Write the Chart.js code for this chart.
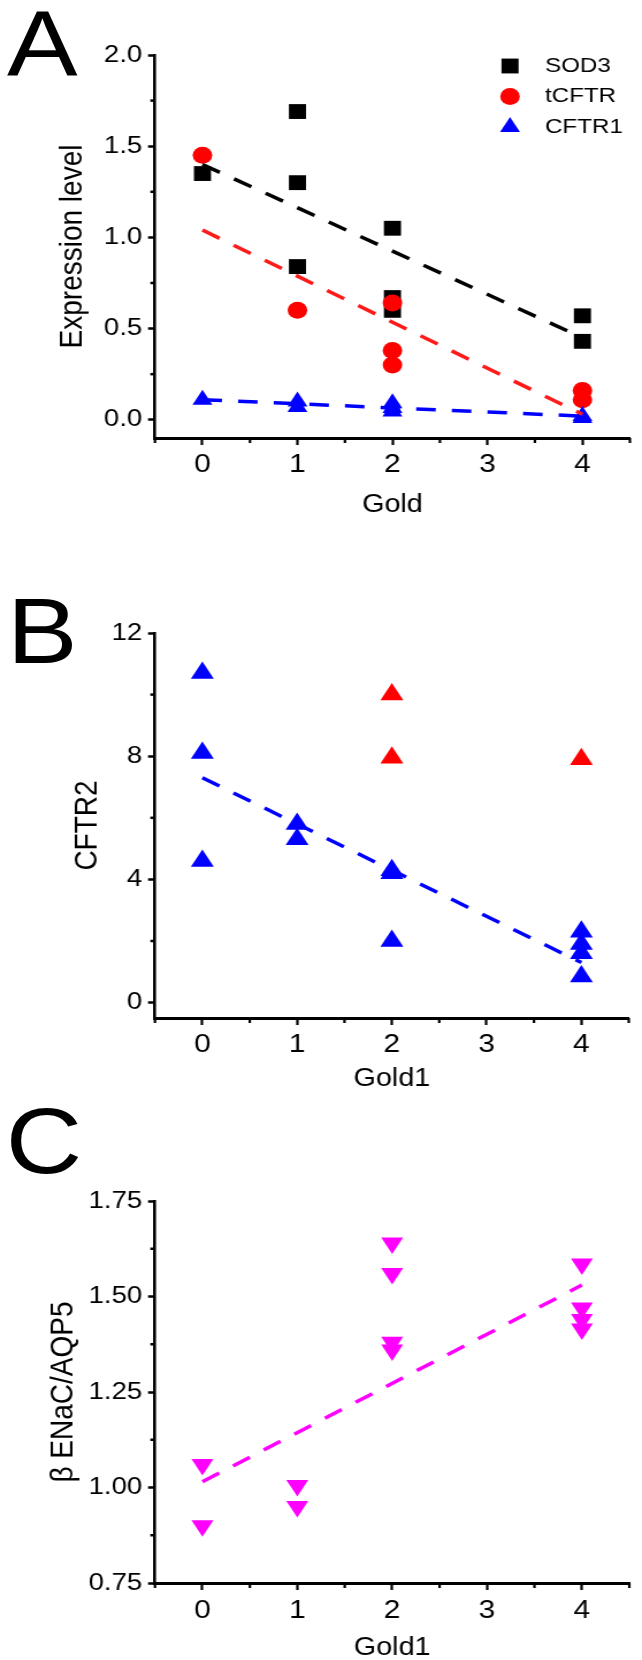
<!DOCTYPE html>
<html>
<head>
<meta charset="utf-8">
<script src="https://cdn.jsdelivr.net/npm/chart.js@4.4.1/dist/chart.umd.min.js"></script>
<style>
  html, body { margin: 0; padding: 0; background: #fff; overflow: hidden; width: 642px; height: 1660px; }
  #page { position: absolute; left: 0; top: 0; width: 558px; height: 1660px; transform: scaleX(1.1505); transform-origin: 0 0; }
  #page canvas { position: absolute; left: 0; }
  .letter { position: absolute; font-family: "Liberation Sans", Arial, sans-serif; font-size: 92px; line-height: 1; color: #000; }
</style>
</head>
<body>
<div id="page">
  <div class="letter" style="left:6px;top:-2px">A</div>
  <div class="letter" style="left:6px;top:585px">B</div>
  <div class="letter" style="left:5px;top:1095px">C</div>
  <canvas id="chartA" style="top:0px"></canvas>
  <canvas id="chartB" style="top:540px"></canvas>
  <canvas id="chartC" style="top:1100px"></canvas>
</div>
<script>
// ---- data ----
const goldTicks = [0, 1, 2, 3, 4];
const goldMinor = [-0.5, 0.5, 1.5, 2.5, 3.5, 4.5];
const fitX = [0, 4];

// panel A
const sod3X = [0, 1, 1, 1, 2, 2, 2, 4, 4];
const sod3Y = [1.35, 1.69, 1.30, 0.84, 1.05, 0.67, 0.60, 0.57, 0.43];
const tcftrX = [0, 1, 2, 2, 2, 4, 4];
const tcftrY = [1.45, 0.60, 0.64, 0.38, 0.30, 0.16, 0.11];
const cftr1X = [0, 1, 1, 2, 2, 2, 4, 4];
const cftr1Y = [0.11, 0.10, 0.07, 0.09, 0.065, 0.045, 0.02, 0.01];
const sod3Fit = [1.40, 0.45];
const tcftrFit = [1.04, 0.03];
const cftr1Fit = [0.11, 0.02];
const expTicks = [0, 0.5, 1.0, 1.5, 2.0];
const expMinor = [0.25, 0.75, 1.25, 1.75];

// panel B
const cftr2BlueX = [0, 0, 0, 1, 1, 2, 2, 2, 4, 4, 4, 4];
const cftr2BlueY = [10.7, 8.1, 4.6, 5.8, 5.3, 4.3, 4.2, 2.0, 2.3, 1.9, 1.6, 0.85];
const cftr2RedX = [2, 2, 4];
const cftr2RedY = [10.0, 7.95, 7.9];
const cftr2Fit = [7.3, 1.3];
const cftr2Ticks = [0, 4, 8, 12];
const cftr2Minor = [2, 6, 10];

// panel C
const enacX = [0, 0, 1, 1, 2, 2, 2, 2, 4, 4, 4, 4];
const enacY = [1.06, 0.90, 1.005, 0.95, 1.64, 1.56, 1.38, 1.36, 1.585, 1.47, 1.44, 1.415];
const enacFit = [1.015, 1.53];
const enacTicks = [0.75, 1.00, 1.25, 1.50, 1.75];
const enacMinor = [0.875, 1.125, 1.375, 1.625];

// ---- helpers ----
const W = 558;
const PLOT_LEFT = 134.7;
const PLOT_RIGHT = 549.3;
const FONT = '"Liberation Sans", Arial, sans-serif';

const pts = (xs, ys) => xs.map((x, i) => ({ x, y: ys[i] }));

function markers(label, xs, ys, color, style, radius, order, extra) {
  return Object.assign({
    label, data: pts(xs, ys), backgroundColor: color, borderColor: color,
    borderWidth: 0, pointStyle: style, pointRadius: radius, order, clip: false
  }, extra || {});
}

function fitLine(ys, color) {
  return {
    data: pts(fitX, ys), showLine: true, borderColor: color, borderWidth: 3.5,
    borderDash: [17, 14], pointRadius: 0, order: 0, clip: false
  };
}

const minorTicks = {
  id: 'minorTicks',
  afterDraw(chart, args, opts) {
    const { ctx, chartArea, scales } = chart;
    ctx.save();
    ctx.strokeStyle = '#000';
    ctx.lineWidth = 2.2;
    (opts.x || []).forEach(v => {
      const px = scales.x.getPixelForValue(v);
      ctx.beginPath();
      ctx.moveTo(px, chartArea.bottom);
      ctx.lineTo(px, chartArea.bottom + 5);
      ctx.stroke();
    });
    ctx.lineWidth = 2.5;
    (opts.y || []).forEach(v => {
      const py = scales.y.getPixelForValue(v);
      ctx.beginPath();
      ctx.moveTo(chartArea.left, py);
      ctx.lineTo(chartArea.left - 4, py);
      ctx.stroke();
    });
    ctx.restore();
  }
};

// legend drawn in the top right of the plot, one row per labelled dataset
const markerLegend = {
  id: 'markerLegend',
  afterDraw(chart, args, opts) {
    if (!opts.show) return;
    const ctx = chart.ctx;
    const items = chart.data.datasets.filter(d => d.label);
    ctx.save();
    items.forEach((d, i) => {
      const y = opts.y0 + i * opts.dy;
      ctx.fillStyle = d.backgroundColor;
      ctx.strokeStyle = d.backgroundColor;
      Chart.helpers.drawPoint(ctx, {
        pointStyle: d.pointStyle, rotation: d.pointRotation || 0,
        radius: d.pointRadius, borderWidth: 0
      }, opts.markerX, y);
      ctx.fillStyle = '#000';
      ctx.font = opts.fontSize + 'px ' + FONT;
      ctx.textBaseline = 'middle';
      ctx.textAlign = 'left';
      ctx.fillText(d.label, opts.textX, y);
    });
    ctx.restore();
  }
};

function buildPanel(id, cfg) {
  const canvas = document.getElementById(id);
  canvas.width = W;
  canvas.height = cfg.height;
  const xAxisH = cfg.xTitleY + 15 - cfg.bottom;
  const padLeft = cfg.yTitleX - 16.8;

  new Chart(canvas, {
    type: 'scatter',
    data: { datasets: cfg.datasets },
    options: {
      responsive: false,
      animation: false,
      events: [],
      layout: {
        padding: { left: padLeft, right: W - PLOT_RIGHT, top: cfg.top, bottom: cfg.height - cfg.bottom - xAxisH }
      },
      plugins: {
        legend: { display: false },
        tooltip: { enabled: false },
        minorTicks: { x: goldMinor, y: cfg.yMinor },
        markerLegend: cfg.legend || { show: false }
      },
      scales: {
        x: {
          type: 'linear', min: -0.5, max: 4.5,
          afterBuildTicks: s => { s.ticks = goldTicks.map(v => ({ value: v })); },
          afterFit: s => { s.height = xAxisH; },
          ticks: { color: '#000', padding: cfg.xTickPad, font: { family: FONT, size: 26, lineHeight: 1.2 }, callback: v => String(v) },
          grid: { display: true, drawOnChartArea: false, drawTicks: true, tickLength: 7, tickColor: '#000', tickWidth: 2.2 },
          border: { display: true, color: '#000', width: 3 },
          title: { display: true, text: cfg.xTitle, color: '#000', padding: 0, font: { family: FONT, size: 25, lineHeight: 1.2 } }
        },
        y: {
          type: 'linear', min: cfg.yMin, max: cfg.yMax,
          afterBuildTicks: s => { s.ticks = cfg.yTicks.map(v => ({ value: v })); },
          afterFit: s => { s.width = PLOT_LEFT - padLeft; },
          ticks: { color: '#000', padding: 5, font: { family: FONT, size: 24, lineHeight: 1.2 }, callback: cfg.yFormat },
          grid: { display: true, drawOnChartArea: false, drawTicks: true, tickLength: 6, tickColor: '#000', tickWidth: 2.5 },
          border: { display: true, color: '#000', width: 2.6 },
          title: { display: true, text: cfg.yTitle, color: '#000', padding: 0, font: { family: FONT, size: 28, lineHeight: 1.2 } }
        }
      }
    },
    plugins: [minorTicks, markerLegend]
  });
}

// A
buildPanel('chartA', {
  height: 540, top: 55, bottom: 438, xTitleY: 505, yTitleX: 63.5, xTickPad: 4.5,
  yMin: -0.1, yMax: 2.0, yTicks: expTicks, yMinor: expMinor,
  yFormat: v => v.toFixed(1), xTitle: 'Gold', yTitle: 'Expression level',
  legend: { show: true, markerX: 443.3, textX: 473.7, y0: 66, dy: 30.5, fontSize: 21 },
  datasets: [
    fitLine(sod3Fit, '#000000'),
    fitLine(tcftrFit, '#ff1a1a'),
    fitLine(cftr1Fit, '#0000ff'),
    markers('SOD3', sod3X, sod3Y, '#000000', 'rect', 10.5, 3),
    markers('tCFTR', tcftrX, tcftrY, '#ff0000', 'circle', 8.5, 2),
    markers('CFTR1', cftr1X, cftr1Y, '#0000ff', 'triangle', 10, 1)
  ]
});

// B
buildPanel('chartB', {
  height: 560, top: 93, bottom: 478, xTitleY: 539, yTitleX: 76.5, xTickPad: 4.5,
  yMin: -0.5, yMax: 12, yTicks: cftr2Ticks, yMinor: cftr2Minor,
  yFormat: v => String(v), xTitle: 'Gold1', yTitle: 'CFTR2',
  datasets: [
    fitLine(cftr2Fit, '#0000ff'),
    markers(null, cftr2RedX, cftr2RedY, '#ff0000', 'triangle', 11.5, 2),
    markers(null, cftr2BlueX, cftr2BlueY, '#0000ff', 'triangle', 11.5, 1)
  ]
});

// C
buildPanel('chartC', {
  height: 580, top: 101, bottom: 483, xTitleY: 548, yTitleX: 55.6, xTickPad: 5.5,
  yMin: 0.75, yMax: 1.75, yTicks: enacTicks, yMinor: enacMinor,
  yFormat: v => v.toFixed(2), xTitle: 'Gold1', yTitle: 'β ENaC/AQP5',
  datasets: [
    fitLine(enacFit, '#ff00ff'),
    markers(null, enacX, enacY, '#ff00ff', 'triangle', 11, 1, { pointRotation: 180 })
  ]
});
</script>
</body>
</html>
